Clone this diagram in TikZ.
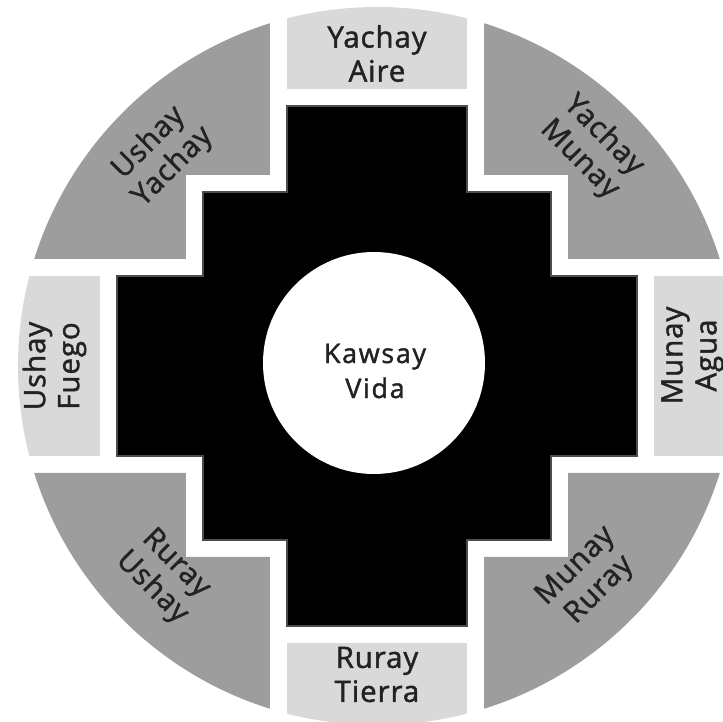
\documentclass[tikz,border=0pt]{standalone}
\usepackage{fontspec}
\setmainfont{Open Sans}
\newfontfamily\labfont{Open Sans}[LetterSpace=3,FakeBold=1.5]
\newfontfamily\ctrfont{Open Sans}[LetterSpace=6,FakeBold=1.5]
\definecolor{lightbox}{HTML}{D9D9D9}
\definecolor{midgrey}{HTML}{9D9D9D}
\definecolor{ink}{HTML}{222222}
\begin{document}
\begin{tikzpicture}[x=1pt,y=1pt,
  outerlab/.style={text=ink, font=\labfont\fontsize{29.5}{34}\selectfont, align=center, inner sep=0pt},
  ctrlab/.style={text=ink, font=\ctrfont\fontsize{27}{35}\selectfont, align=center, inner sep=0pt},
  lightregion/.style={fill=lightbox},
  greyregion/.style={fill=midgrey},
  crossshape/.style={fill=black, draw=black!70, line width=1.5pt}]
\def\pR{359}\def\pA{90}\def\pB{174}\def\pC{260}\def\pG{17}
\useasboundingbox (-377,-356) rectangle (346,366);
\begin{scope}
  \clip (0,0) circle (\pR);
  \fill[lightregion] (-\pA,\pC+\pG) rectangle (\pA,\pR+5);
  \fill[lightregion] (-\pA,-\pC-\pG) rectangle (\pA,-\pR-5);
  \fill[lightregion] (-\pR-5,-\pA) rectangle (-\pC-\pG,\pA);
  \fill[lightregion] (\pC+\pG,-\pA) rectangle (\pR+5,\pA);
  \foreach \sx/\sy in {1/1,-1/1,1/-1,-1/-1}
    \fill[greyregion, xscale=\sx, yscale=\sy]
      (\pA+\pG,\pR+5) -- (\pA+\pG,\pB+\pG) -- (\pB+\pG,\pB+\pG) -- (\pB+\pG,\pA+\pG)
      -- (\pR+5,\pA+\pG) -- (\pR+5,\pR+5) -- cycle;
\end{scope}
\draw[crossshape] (\pA,\pC) -- (\pA,\pB) -- (\pB,\pB) -- (\pB,\pA) -- (\pC,\pA) -- (\pC,-\pA)
  -- (\pB,-\pA) -- (\pB,-\pB) -- (\pA,-\pB) -- (\pA,-\pC) -- (-\pA,-\pC) -- (-\pA,-\pB)
  -- (-\pB,-\pB) -- (-\pB,-\pA) -- (-\pC,-\pA) -- (-\pC,\pA) -- (-\pB,\pA) -- (-\pB,\pB)
  -- (-\pA,\pB) -- (-\pA,\pC) -- cycle;
\fill[white] (-3,3) circle (111);
\node[ctrlab] (kawsay) at (-2,-5) {Kawsay\\Vida};
\node[outerlab] (aire) at (0,312.5) {Yachay\\Aire};
\node[outerlab] (tierra) at (0,-308.5) {Ruray\\Tierra};
\node[outerlab, rotate=90] (fuego) at (-322.5,0) {Ushay\\Fuego};
\node[outerlab, rotate=90] (agua) at (315.5,10.5) {Munay\\Agua};
\node[outerlab, rotate=45] (ushayyachay) at (-216,211) {Ushay\\Yachay};
\node[outerlab, rotate=-45] (yachaymunay) at (214.5,218.5) {Yachay\\Munay};
\node[outerlab, rotate=-45] (rurayushay) at (-213.5,-210) {Ruray\\Ushay};
\node[outerlab, rotate=45] (munayruray) at (211,-212.5) {Munay\\Ruray};
\end{tikzpicture}
\end{document}
